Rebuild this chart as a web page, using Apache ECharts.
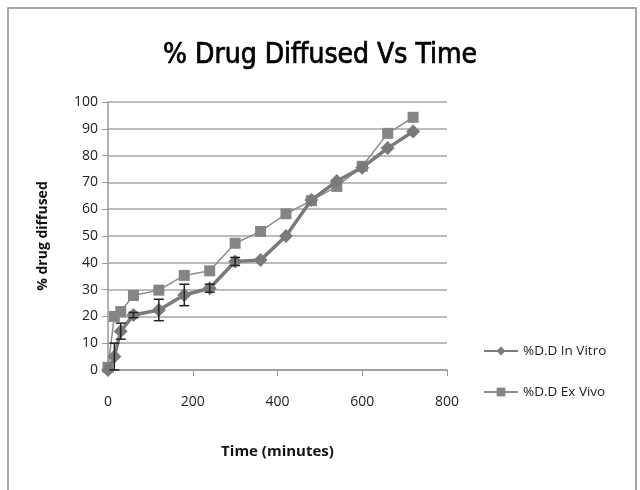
<!DOCTYPE html>
<html><head><meta charset="utf-8">
<script src="https://cdn.jsdelivr.net/npm/echarts@6/dist/echarts.min.js"></script>
<style>html,body{margin:0;padding:0;background:#fff}#c{width:640px;height:490px}</style>
</head><body><div id="c"></div>
<script>
const times = [0, 15, 30, 60, 120, 180, 240, 300, 360, 420, 480, 540, 600, 660, 720];
const inVitro = [0, 5, 14.5, 20.5, 22.4, 28, 30.5, 40.5, 41, 50, 63.4, 70.5, 75.5, 82.8, 89];
const inVitroErr = [0, 5, 3, 1, 4, 4, 1.5, 1.5, 0, 0, 0, 0, 0, 0, 0];
const exVivo = [1, 20, 21.8, 27.8, 29.8, 35.3, 37, 47.3, 51.7, 58.3, 63.2, 68.5, 76, 88.3, 94.3];
const xTicks = [0, 200, 400, 600, 800];
const yTicks = [0, 10, 20, 30, 40, 50, 60, 70, 80, 90, 100];

const chart = echarts.init(document.getElementById('c'), null, {renderer: 'canvas'});
const font = 'Open Sans';
const errData = times.map((t, i) => [t, inVitro[i] - inVitroErr[i], inVitro[i] + inVitroErr[i], inVitroErr[i]]).filter(d => d[3] > 0);

chart.setOption({
  animation: false,
  backgroundColor: '#fff',
  graphic: [{
    type: 'rect', shape: {x: 8, y: 8, width: 628, height: 500},
    style: {fill: 'none', stroke: '#8a8a8a', lineWidth: 1.5}, silent: true, z: -1
  }],
  title: {
    text: '% Drug Diffused Vs Time', left: 'center', top: 37,
    textStyle: {fontFamily: 'DejaVu Sans Condensed', fontSize: 28, fontWeight: 'normal', color: '#000',
      textBorderColor: '#000', textBorderWidth: 0.7}
  },
  grid: {left: 108, right: 193, top: 102, bottom: 120, containLabel: false},
  legend: {
    orient: 'vertical', left: 478, top: 339, itemGap: 27, itemWidth: 34, itemHeight: 11,
    textStyle: {fontFamily: font, fontSize: 13.5, color: '#222'},
    data: ['%D.D In Vitro', '%D.D Ex Vivo']
  },
  xAxis: {
    type: 'value', min: 0, max: 800, interval: 200,
    name: 'Time (minutes)', nameLocation: 'middle', nameGap: 74,
    nameTextStyle: {fontFamily: font, fontSize: 15, fontWeight: 'bold', color: '#111'},
    axisLine: {show: true, lineStyle: {color: '#999', width: 1.5}},
    axisTick: {show: true, inside: false, length: 6, lineStyle: {color: '#999'}},
    axisLabel: {fontFamily: font, fontSize: 14, color: '#222', margin: 25,
      formatter: v => xTicks.includes(v) ? String(v) : ''},
    splitLine: {show: false}
  },
  yAxis: {
    type: 'value', min: 0, max: 100, interval: 10,
    name: '% drug diffused', nameLocation: 'middle', nameGap: 58, nameRotate: 90,
    nameTextStyle: {fontFamily: font, fontSize: 14, fontWeight: 'bold', color: '#111'},
    axisLine: {show: true, lineStyle: {color: '#999', width: 1.5}},
    axisTick: {show: true, inside: false, length: 6, lineStyle: {color: '#999'}},
    axisLabel: {fontFamily: font, fontSize: 14, color: '#222', margin: 10,
      formatter: v => yTicks.includes(v) ? String(v) : ''},
    splitLine: {show: true, lineStyle: {color: '#a6a6a6', width: 1.5}}
  },
  series: [
    {
      name: '%D.D In Vitro', type: 'line', z: 3,
      data: times.map((t, i) => [t, inVitro[i]]),
      symbol: 'diamond', symbolSize: 14,
      lineStyle: {color: '#7a7a7a', width: 3.5},
      itemStyle: {color: '#7a7a7a'}
    },
    {
      name: '%D.D Ex Vivo', type: 'line', z: 2,
      data: times.map((t, i) => [t, exVivo[i]]),
      symbol: 'rect', symbolSize: 11,
      lineStyle: {color: '#8c8c8c', width: 1.5},
      itemStyle: {color: '#858585'}
    },
    {
      name: 'err', type: 'custom', z: 4,
      data: errData,
      renderItem: function (params, api) {
        const lo = api.coord([api.value(0), api.value(1)]);
        const hi = api.coord([api.value(0), api.value(2)]);
        const w = 5;
        const st = {stroke: '#222', lineWidth: 1.5};
        return {type: 'group', children: [
          {type: 'line', shape: {x1: lo[0], y1: lo[1], x2: hi[0], y2: hi[1]}, style: st},
          {type: 'line', shape: {x1: lo[0] - w, y1: lo[1], x2: lo[0] + w, y2: lo[1]}, style: st},
          {type: 'line', shape: {x1: hi[0] - w, y1: hi[1], x2: hi[0] + w, y2: hi[1]}, style: st}
        ]};
      }
    }
  ]
});
</script></body></html>
